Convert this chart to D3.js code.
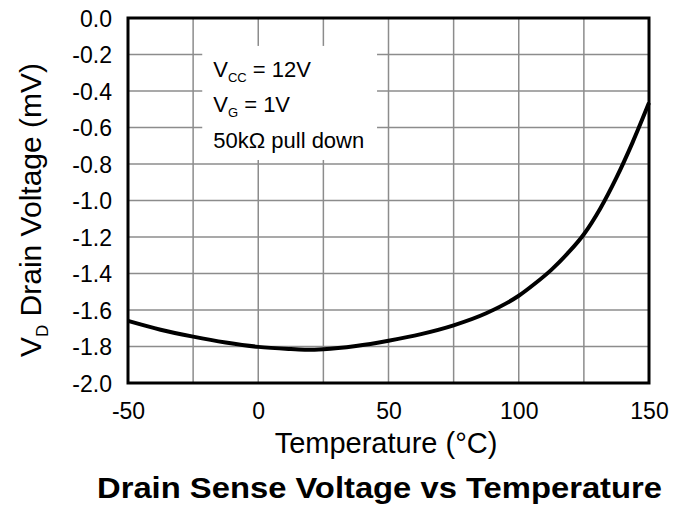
<!DOCTYPE html>
<html>
<head>
<meta charset="utf-8">
<script src="https://cdn.jsdelivr.net/npm/d3@7"></script>
<style>
  body { margin: 0; background: #fff; }
  text { font-family: "Liberation Sans", Arial, sans-serif; fill: #000; }
</style>
</head>
<body>
<div id="chart"></div>
<script>
// data
const temps = [-50, -37.5, -25, -12.5, 0, 12.5, 18.75, 25, 37.5, 50, 62.5, 75, 87.5, 100, 106.25, 112.5, 118.75, 125, 131.25, 137.5, 143.75, 150];
const drainMv = [-1.66, -1.708, -1.746, -1.778, -1.802, -1.814, -1.818, -1.815, -1.797, -1.768, -1.732, -1.684, -1.618, -1.522, -1.455, -1.38, -1.29, -1.185, -1.045, -0.875, -0.68, -0.465];

const xTicks = [-50, -25, 0, 25, 50, 75, 100, 125, 150];
const xTickLabels = ['-50', '', '0', '', '50', '', '100', '', '150'];
const yTicks = [0, -0.2, -0.4, -0.6, -0.8, -1.0, -1.2, -1.4, -1.6, -1.8, -2.0];

const W = 686, H = 505;
const margin = { top: 18, right: 37, bottom: 122, left: 128 };
const innerW = W - margin.left - margin.right;
const innerH = H - margin.top - margin.bottom;
const font = '"Liberation Sans", Arial, sans-serif';

const svg = d3.select('#chart').append('svg')
  .attr('width', W)
  .attr('height', H);

const x = d3.scaleLinear().domain([-50, 150]).range([0, innerW]);
const y = d3.scaleLinear().domain([-2, 0]).range([innerH, 0]);

const g = svg.append('g')
  .attr('transform', `translate(${margin.left},${margin.top})`);

// grid
g.append('g')
  .selectAll('line')
  .data(xTicks)
  .enter()
  .append('line')
  .attr('x1', d => x(d)).attr('x2', d => x(d))
  .attr('y1', 0).attr('y2', innerH)
  .attr('stroke', '#8c8c8c')
  .attr('stroke-width', 1.5);

g.append('g')
  .selectAll('line')
  .data(yTicks)
  .enter()
  .append('line')
  .attr('x1', 0).attr('x2', innerW)
  .attr('y1', d => y(d)).attr('y2', d => y(d))
  .attr('stroke', '#8c8c8c')
  .attr('stroke-width', 1.5);

// note box hides grid behind it
const note = g.append('g').attr('transform', `translate(${x(-21.5)},${y(-0.153)})`);
note.append('rect')
  .attr('width', x(45.6) - x(-21.5))
  .attr('height', y(-0.778) - y(-0.153))
  .attr('fill', '#fff');

const noteLines = [
  [['V', 'n'], ['CC', 's'], [' = 12V', 'n']],
  [['V', 'n'], ['G', 's'], [' = 1V', 'n']],
  [['50kΩ pull down', 'n']],
];
noteLines.forEach((parts, i) => {
  const t = note.append('text')
    .attr('x', 11)
    .attr('y', 31 + i * 35.5)
    .attr('font-size', '22px');
  parts.forEach(([s, kind], j) => {
    t.append('tspan')
      .attr('font-size', kind === 's' ? '13px' : '22px')
      .attr('dy', kind === 's' ? 5 : (j > 0 ? -5 : 0))
      .text(s);
  });
});

// curve
const line = d3.line()
  .x((d, i) => x(temps[i]))
  .y(d => y(d))
  .curve(d3.curveMonotoneX);

g.append('path')
  .datum(drainMv)
  .attr('fill', 'none')
  .attr('stroke', '#000')
  .attr('stroke-width', 4)
  .attr('d', line);

// frame
g.append('rect')
  .attr('width', innerW)
  .attr('height', innerH)
  .attr('fill', 'none')
  .attr('stroke', '#000')
  .attr('stroke-width', 3);

// axes
const xAxis = g.append('g')
  .attr('transform', `translate(0,${innerH})`)
  .call(d3.axisBottom(x).tickValues(xTicks).tickSize(0).tickPadding(20)
    .tickFormat((d, i) => xTickLabels[i]));
xAxis.select('.domain').remove();
xAxis.selectAll('text').attr('font-size', '23px').attr('font-family', font);

const yAxis = g.append('g')
  .call(d3.axisLeft(y).tickValues(yTicks).tickSize(0).tickPadding(16));
yAxis.select('.domain').remove();
yAxis.selectAll('text').attr('font-size', '23px').attr('font-family', font)
  .attr('dy', '0.36em')
  .text(d => d3.format('.1f')(d).replace('−', '-'));

// axis titles
svg.append('text')
  .attr('x', 386)
  .attr('y', 453)
  .attr('text-anchor', 'middle')
  .attr('font-size', '29px')
  .text('Temperature (°C)');

const yt = svg.append('text')
  .attr('transform', `translate(41,210) rotate(-90)`)
  .attr('text-anchor', 'middle')
  .attr('font-size', '30px');
yt.append('tspan').text('V');
yt.append('tspan').attr('font-size', '17px').attr('dy', 7).text('D');
yt.append('tspan').attr('dy', -7).text(' Drain Voltage (mV)');

svg.append('text')
  .attr('x', 97)
  .attr('y', 498)
  .attr('font-size', '29px')
  .attr('font-weight', 'bold')
  .attr('textLength', 565)
  .attr('lengthAdjust', 'spacingAndGlyphs')
  .text('Drain Sense Voltage vs Temperature');
</script>
</body>
</html>
